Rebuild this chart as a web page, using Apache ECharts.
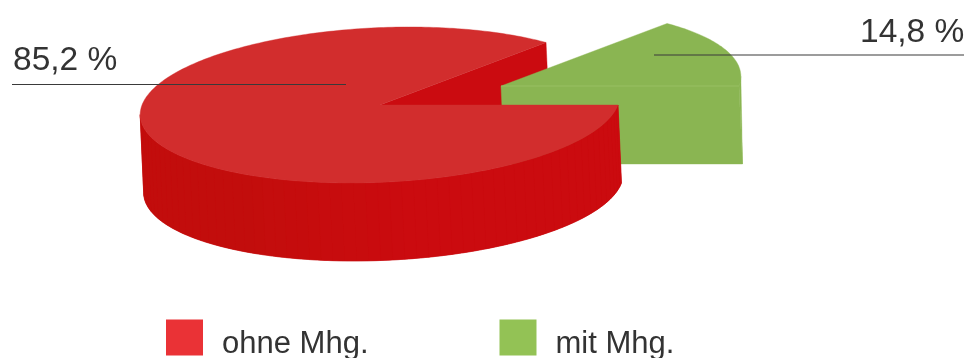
<!DOCTYPE html>
<html>
<head>
<meta charset="utf-8">
<style>html,body{margin:0;padding:0;background:#fff}#c{width:971px;height:358px}</style>
<script src="https://cdn.jsdelivr.net/npm/echarts@6/dist/echarts.min.js"></script>
</head>
<body>
<div id="c"></div>
<script>
// Anteile am Gesamtwert
const categories = ['ohne Mhg.', 'mit Mhg.'];
const shares = [85.2, 14.8];
const shareLabels = ['85,2 %', '14,8 %'];
const legendColors = ['#ea3236', '#93c255'];

const total = shares[0] + shares[1];
const RX = 238, RY = 78, SHEAR = 0.38, DROP = 78, SLANT = 3.5;
const DEG = Math.PI / 180;
const FONT = '"Liberation Sans", Arial, sans-serif';

// Rim point of the tilted disc; t is counter-clockwise from the +x direction.
function rim(c, t) {
  return [c[0] + RX * Math.cos(t) + SHEAR * RY * Math.sin(t), c[1] - RY * Math.sin(t)];
}
function below(p) { return [p[0] + SLANT, p[1] + DROP]; }
function arc(c, from, to) {
  const n = Math.max(2, Math.ceil(Math.abs(to - from) / DEG));
  const pts = [];
  for (let i = 0; i <= n; i++) pts.push(rim(c, from + (to - from) * i / n));
  return pts;
}
function wall(c, from, to) {
  const top = arc(c, from, to);
  return top.concat(top.map(below).reverse());
}
function poly(points, fill, z2) {
  return { type: 'polygon', z2: z2, shape: { points: points }, style: { fill: fill, stroke: fill, lineWidth: 0.4 } };
}
function leader(x1, x2, y) {
  return { type: 'line', z2: 10, shape: { x1: x1, y1: y, x2: x2, y2: y }, style: { stroke: '#3a3a3a', lineWidth: 1.2 } };
}
function caption(text, x, y) {
  return { type: 'text', z2: 11, style: { text: text, x: x, y: y, font: '33.5px ' + FONT, fill: '#333' } };
}
// Wall shade: bright on the right, darker on the left, blending in between.
function wallShade(f) {
  const u = Math.min(1, Math.max(0, (f - 0.42) / 0.26));
  const mix = (a, b) => Math.round(a + (b - a) * u);
  return 'rgb(' + mix(203, 194) + ',' + mix(11, 13) + ',' + mix(15, 12) + ')';
}

// Large slice: runs clockwise from the horizontal cut at the disc centre.
function renderMain(params, api) {
  const c = [380, 105];
  const sweep = api.value(0) / total * 2 * Math.PI;
  const end = -sweep;
  const cutTop = rim(c, end);
  const silhouette = -(Math.PI - Math.atan(SHEAR * RY / RX));
  const children = [];
  // inner cut face, visible in the gap left by the small slice
  children.push(poly([c, cutTop, below(cutTop), below(c)], '#cb0b10', 1));
  // outer wall as narrow strips
  children.push(poly(wall(c, 0, silhouette), '#c70c0e', 3));
  const strips = 60;
  for (let i = 0; i < strips; i++) {
    const a = silhouette * i / strips, b = silhouette * (i + 1) / strips;
    children.push(poly(wall(c, a, b), wallShade(i / strips), 3));
  }
  // top face
  children.push(poly([c].concat(arc(c, 0, end)), '#d22d2d', 4));
  children.push(leader(12, 346, 84.5));
  children.push(caption(shareLabels[0], 13, 44));
  return { type: 'group', children: children };
}

// Small slice, pulled out towards the upper right.
function renderOut(params, api) {
  const c = [501, 86];
  const sweep = api.value(0) / total * 2 * Math.PI;
  const edge = rim(c, 0);
  const shoulder = rim(c, Math.atan(SHEAR * RY / RX));
  const children = [];
  children.push(poly([c, edge, below(edge), below(c)], '#8ab552', 2));
  children.push(poly([shoulder, edge, below(edge)], '#8ab552', 2));
  children.push(poly([c].concat(arc(c, 0, sweep)), '#8ab552', 2));
  children.push({ type: 'line', z2: 2, shape: { x1: c[0], y1: c[1], x2: edge[0], y2: edge[1] },
    style: { stroke: 'rgba(190,215,150,0.3)', lineWidth: 1 } });
  children.push(leader(654, 964, 55));
  children.push(caption(shareLabels[1], 860, 16));
  return { type: 'group', children: children };
}

const chart = echarts.init(document.getElementById('c'), null, { renderer: 'canvas' });
chart.setOption({
  animation: false,
  legend: {
    left: 161, top: 310, itemWidth: 37, itemHeight: 36, itemGap: 131, selectedMode: false,
    icon: 'rect',
    // the empty first line pushes the name below the centre of the swatch
    formatter: name => '{gap| }\n{name|' + name + '}',
    textStyle: {
      rich: {
        gap: { height: 14, fontSize: 10, lineHeight: 14 },
        name: { fontFamily: FONT, fontSize: 31, color: '#333', padding: [0, 0, 0, 14] }
      }
    },
    data: categories.map((name, i) => ({ name: name, itemStyle: { color: legendColors[i] } }))
  },
  series: [
    { type: 'custom', name: categories[0], coordinateSystem: 'none', renderItem: renderMain,
      itemStyle: { color: legendColors[0] }, data: [[shares[0]]], silent: true },
    { type: 'custom', name: categories[1], coordinateSystem: 'none', renderItem: renderOut,
      itemStyle: { color: legendColors[1] }, data: [[shares[1]]], silent: true }
  ]
});
</script>
</body>
</html>
